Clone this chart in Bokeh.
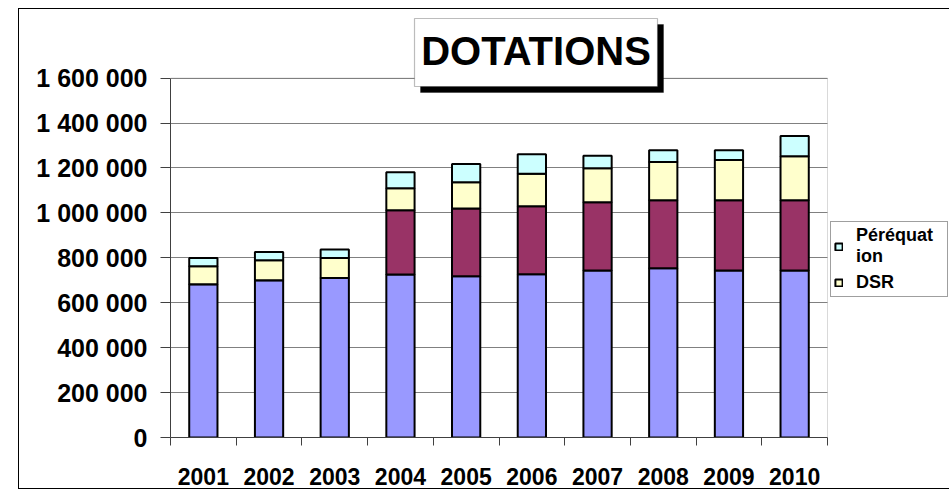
from bokeh.plotting import figure
from bokeh.models import (ColumnDataSource, Range1d, FixedTicker, Legend, LegendItem,
                          BoxAnnotation, Label, InlineStyleSheet, Grid)
from bokeh.embed import file_html
from bokeh.resources import INLINE
import numpy as np

# ---- data ----
years = ["2001", "2002", "2003", "2004", "2005", "2006", "2007", "2008", "2009", "2010"]
forfaitaire = [682000, 700000, 710000, 726000, 718000, 727000, 744000, 753000, 744000, 744000]
compensation = [0, 0, 0, 286000, 302000, 303000, 303000, 303000, 312000, 312000]
dsr = [80000, 89000, 89000, 98000, 116000, 144000, 152000, 170000, 179000, 196000]
perequation = [37000, 37000, 38000, 71000, 82000, 87000, 55000, 53000, 44000, 90000]
series_names = ["Forfaitaire", "Compensation", "DSR", "Péréquation"]
series_colors = ["#9999FF", "#993366", "#FFFFCC", "#CCFFFF"]
y_ticks = [0, 200000, 400000, 600000, 800000, 1000000, 1200000, 1400000, 1600000]
y_tick_labels = ["0", "200 000", "400 000", "600 000", "800 000", "1 000 000",
                 "1 200 000", "1 400 000", "1 600 000"]
y_axis_max = 1600000
title_text = "DOTATIONS"

FONT = "Liberation Sans"

# layout (pixels)
W, H = 949, 498
FRAME_LEFT, FRAME_RIGHT, FRAME_BOTTOM = 170, 827, 437
AXIS_TOP_PX = 77.6          # pixel row of the top of the value axis
n = len(years)
# the drawing frame is extended up and to the right so that the title box and the
# legend (annotations, clipped to the frame) can sit inside it; the axes keep their bounds
y_end = y_axis_max * FRAME_BOTTOM / (FRAME_BOTTOM - AXIS_TOP_PX)
x_end = n * (W - FRAME_LEFT) / (FRAME_RIGHT - FRAME_LEFT)

xpos = (np.arange(n) + 0.5).tolist()
source = ColumnDataSource(dict(x=xpos, Forfaitaire=forfaitaire, Compensation=compensation,
                               DSR=dsr, **{"Péréquation": perequation}))

p = figure(width=W, height=H, output_backend="svg", toolbar_location=None, title=None,
           x_range=Range1d(0, x_end), y_range=Range1d(0, y_end),
           min_border_left=FRAME_LEFT, min_border_right=0,
           min_border_top=0, min_border_bottom=H - FRAME_BOTTOM)
p.background_fill_color = "white"
p.border_fill_color = "white"
p.outline_line_color = None

# plot-area border (gray, visible on the right and top)
area = BoxAnnotation(left=0, right=n, bottom=0, top=y_axis_max,
                     fill_alpha=0, line_color="#808080", line_width=1, level="underlay")
p.add_layout(area)

rs = p.vbar_stack(series_names, x="x", width=0.43, color=series_colors,
                  line_color="black", line_width=2, source=source)

# x axis
p.xaxis.ticker = FixedTicker(ticks=xpos, minor_ticks=list(range(n + 1)))
p.xaxis.bounds = (0, n)
p.xaxis.major_label_overrides = {xv: yr for xv, yr in zip(xpos, years)}
p.xaxis.major_tick_out = 0
p.xaxis.major_tick_in = 0
p.xaxis.minor_tick_out = 8
p.xaxis.minor_tick_in = 0
p.xaxis.minor_tick_line_color = "#404040"
p.xaxis.axis_line_color = "#404040"
p.xaxis.major_label_standoff = 22
p.xaxis.major_label_text_font = FONT
p.xaxis.major_label_text_font_style = "bold"
p.xaxis.major_label_text_font_size = "23px"
p.xaxis.major_label_text_color = "black"

# y axis
p.yaxis.ticker = FixedTicker(ticks=y_ticks, minor_ticks=[])
p.yaxis.bounds = (0, y_axis_max)
p.yaxis.major_label_overrides = {t: l for t, l in zip(y_ticks, y_tick_labels)}
p.yaxis.major_tick_out = 10
p.yaxis.major_tick_in = 0
p.yaxis.minor_tick_out = 0
p.yaxis.minor_tick_in = 0
p.yaxis.major_tick_line_color = "#404040"
p.yaxis.axis_line_color = "#404040"
p.yaxis.major_label_standoff = 13
p.yaxis.major_label_text_font = FONT
p.yaxis.major_label_text_font_style = "bold"
p.yaxis.major_label_text_font_size = "25px"
p.yaxis.major_label_text_color = "black"

p.xgrid.grid_line_color = None
if "cross_bounds" in Grid.properties():
    p.ygrid.ticker = FixedTicker(ticks=y_ticks)
    p.ygrid.cross_bounds = (0, n)
    p.ygrid.grid_line_color = "#808080"
    p.ygrid.grid_line_width = 1
    p.ygrid.level = "underlay"
else:
    p.ygrid.grid_line_color = None
    p.segment(x0=0, x1=n, y0=y_ticks, y1=y_ticks, line_color="#808080",
              line_width=1, level="underlay")

# title box with shadow
shadow = BoxAnnotation(left=420, right=663, top=24, bottom=92,
                       left_units="canvas", right_units="canvas",
                       top_units="canvas", bottom_units="canvas",
                       fill_color="black", fill_alpha=1, line_color="black", line_width=1,
                       level="overlay")
box = BoxAnnotation(left=414, right=657, top=18, bottom=86,
                    left_units="canvas", right_units="canvas",
                    top_units="canvas", bottom_units="canvas",
                    fill_color="white", fill_alpha=1, line_color="#202020", line_width=1.2,
                    level="overlay")
p.add_layout(shadow)
p.add_layout(box)
title = Label(x=535.5, y=50, x_units="canvas", y_units="canvas", text=title_text,
              text_align="center", text_baseline="middle", text_font=FONT,
              text_font_style="bold", text_font_size="40px", text_color="black",
              level="overlay")
p.add_layout(title)

# legend (only the first two entries are visible in the original)
legend = Legend(items=[LegendItem(label="Péréquat\nion", renderers=[rs[3]]),
                       LegendItem(label="DSR", renderers=[rs[2]])],
                location=(830 - FRAME_LEFT, FRAME_BOTTOM - 297))
legend.label_text_font = FONT
legend.label_text_font_style = "bold"
legend.label_text_font_size = "18px"
legend.label_text_line_height = 1.2
legend.label_text_color = "black"
legend.label_standoff = 13
legend.label_width = 88
legend.glyph_width = 9
legend.glyph_height = 9
legend.padding = 3
legend.spacing = 5
legend.margin = 0
legend.border_line_color = "#404040"
legend.border_line_width = 1
legend.background_fill_color = "white"
legend.background_fill_alpha = 1
p.add_layout(legend, "center")

# outer chart border (its right side lies beyond the picture); all texts are bold
p.stylesheets = [InlineStyleSheet(css="""
:host { position: relative; }
:host::after {
  content: ""; position: absolute; left: 18px; top: 8px;
  width: 930px; height: 479px; box-sizing: content-box;
  border-left: 1px solid black; border-top: 1px solid black; border-bottom: 1px solid black;
  border-right: none;
  pointer-events: none;
}
text { font-weight: bold !important; }
""")]

open("out.html", "w").write(file_html(p, INLINE))
